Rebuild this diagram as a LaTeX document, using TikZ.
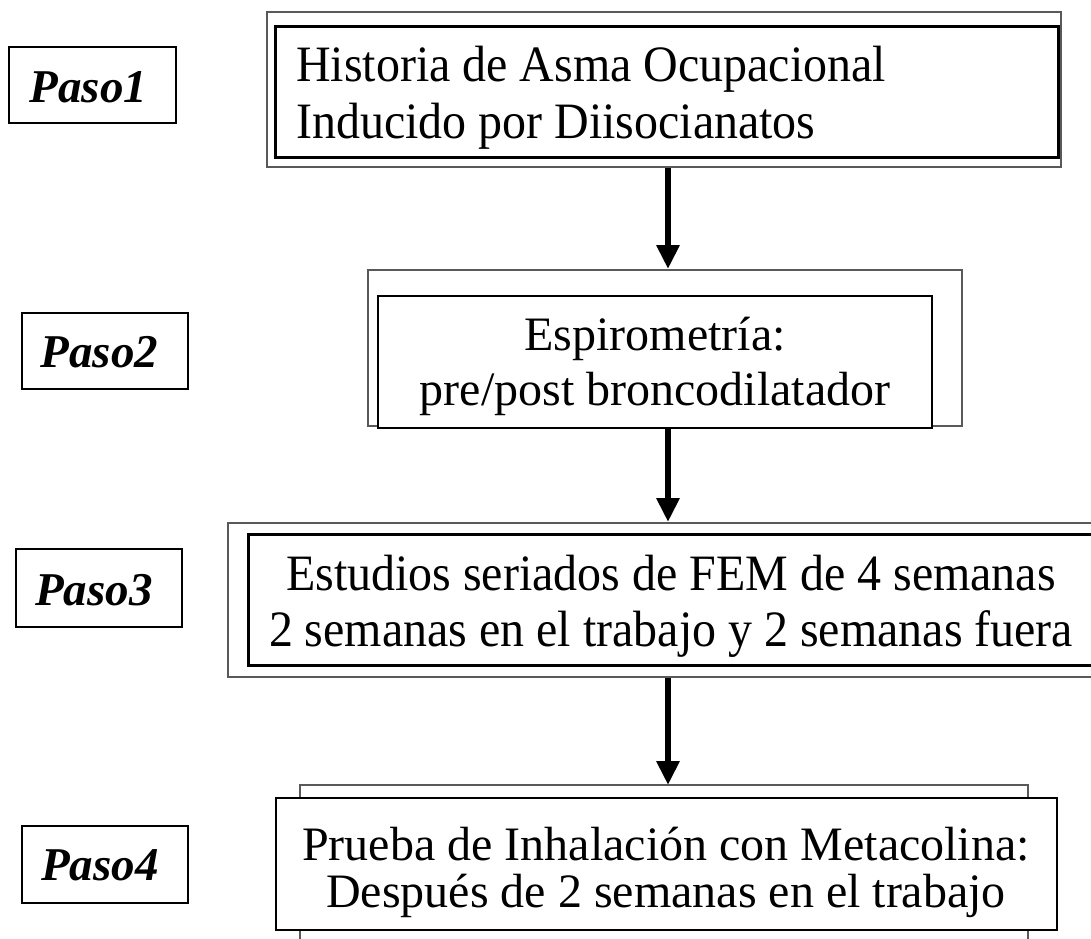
\documentclass[tikz,border=0pt]{standalone}
\usepackage{fontspec}
\setmainfont{Liberation Serif}
\usetikzlibrary{arrows.meta}
\tikzset{
  outerbox/.style={draw=black!65, line width=2pt, fill=white, inner sep=0pt},
  innerbox/.style={draw=black, line width=3pt, fill=white, inner sep=0pt},
  pasobox/.style={draw=black, line width=2.7pt, fill=white, inner sep=0pt},
  pasotext/.style={anchor=base, inner sep=0pt, font=\fontsize{47}{52}\selectfont\bfseries\itshape},
  linetext/.style={inner sep=0pt},
  flow/.style={line width=6pt, -{Triangle[width=22pt,length=24pt]}},
}
\newcommand{\narrow}[1]{\scalebox{0.94}[1]{#1}}
\begin{document}
\begin{tikzpicture}[x=1pt,y=-1pt]
\useasboundingbox (0,0) rectangle (1091,938);
\clip (0,0) rectangle (1091,938);
\coordinate (ax) at (668,0);
% Paso labels
\node[pasobox, minimum width=167pt, minimum height=76pt] (p1) at (92.5,85) {};
\node[pasotext] (p1t) at (88.5,102) {Paso1};
\node[pasobox, minimum width=166pt, minimum height=76pt] (p2) at (105,351) {};
\node[pasotext] (p2t) at (99.5,367) {Paso2};
\node[pasobox, minimum width=166pt, minimum height=78pt] (p3) at (99,588) {};
\node[pasotext] (p3t) at (94,605) {Paso3};
\node[pasobox, minimum width=166pt, minimum height=77pt] (p4) at (105,864.5) {};
\node[pasotext] (p4t) at (100,880) {Paso4};
% Box 1
\node[outerbox, minimum width=794pt, minimum height=155pt] (b1o) at (664,89.5) {};
\node[innerbox, minimum width=783pt, minimum height=131pt] (b1) at (666.5,91.5) {};
\node[linetext, anchor=base west, font=\fontsize{51}{57}\selectfont] (b1t) at (296,81)
  {\begin{tabular}[t]{@{}l@{}}\narrow{Historia de Asma Ocupacional}\\\narrow{Inducido por Diisocianatos}\end{tabular}};
% Box 2
\node[outerbox, minimum width=594pt, minimum height=156pt] (b2o) at (665,348) {};
\node[innerbox, line width=2.4pt, minimum width=554pt, minimum height=132pt] (b2) at (655,362) {};
\node[linetext, anchor=base, font=\fontsize{48}{55}\selectfont] (b2t) at (655,350)
  {\begin{tabular}[t]{@{}c@{}}Espirometría:\\pre/post broncodilatador\end{tabular}};
% Box 3 (runs past the right edge)
\node[outerbox, minimum width=880pt, minimum height=154pt] (b3o) at (668,600) {};
\node[innerbox, minimum width=860pt, minimum height=131pt] (b3) at (678,599.5) {};
\node[linetext, anchor=base, font=\fontsize{51}{56}\selectfont] (b3t) at (671,590)
  {\begin{tabular}[t]{@{}c@{}}\narrow{Estudios seriados de FEM de 4 semanas}\\\narrow{2 semanas en el trabajo y 2 semanas fuera}\end{tabular}};
% Box 4
\draw[draw=black!65, line width=2pt] (300,950) -- (300,785) -- (1028,785) -- (1028,950);
\coordinate (b4o) at (668,785);
\node[innerbox, line width=2.6pt, minimum width=781pt, minimum height=132pt] (b4) at (666.5,864) {};
\node[linetext, anchor=base, font=\fontsize{48}{47}\selectfont] (b4t) at (666,860)
  {\begin{tabular}[t]{@{}c@{}}Prueba de Inhalación con Metacolina:\\Después de 2 semanas en el trabajo\end{tabular}};
% arrows
\draw[flow] (b1o.south -| ax) -- (b2o.north -| ax);
\draw[flow] (b2.south -| ax) -- (b3o.north -| ax);
\draw[flow] (b3o.south -| ax) -- (b4o);
\end{tikzpicture}
\end{document}
